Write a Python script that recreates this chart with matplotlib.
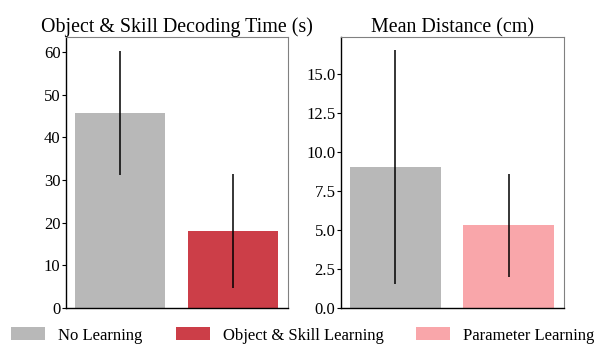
import matplotlib.pyplot as plt
from matplotlib.patches import Patch

plt.rcParams['font.family'] = ['Liberation Serif', 'DejaVu Serif']

# data
time_labels = ['No Learning', 'Object & Skill Learning']
time_means = [45.7, 18.0]
time_low = [31.1, 4.7]
time_high = [60.3, 31.4]

dist_labels = ['No Learning', 'Parameter Learning']
dist_means = [9.05, 5.32]
dist_low = [1.55, 2.0]
dist_high = [16.55, 8.6]

legend_labels = ['No Learning', 'Object & Skill Learning', 'Parameter Learning']
colors = {'No Learning': '#b8b8b8', 'Object & Skill Learning': '#cc3e48',
          'Parameter Learning': '#f9a6aa'}

fig = plt.figure(figsize=(6.09, 3.55), dpi=100)
ax1 = fig.add_axes([66 / 609, 1 - 308 / 355, 222 / 609, 271 / 355])
ax2 = fig.add_axes([341 / 609, 1 - 308 / 355, 223 / 609, 271 / 355])


def draw(ax, labels, means, low, high, ymax, ticks, fmt, title):
    xs = range(len(labels))
    ax.bar(xs, means, width=0.8, color=[colors[l] for l in labels])
    for x, m, lo, hi in zip(xs, means, low, high):
        ax.vlines(x, lo, hi, color='black', lw=1.1)
    ax.set_xlim(-0.48, 1.49)
    ax.set_ylim(0, ymax)
    ax.set_xticks([])
    ax.set_yticks(ticks)
    ax.set_yticklabels([fmt.format(t) for t in ticks])
    ax.tick_params(axis='y', labelsize=12, length=3, width=0.8, pad=1)
    for s in ['top', 'right']:
        ax.spines[s].set_color('#808080')
        ax.spines[s].set_linewidth(0.8)
    for s in ['left', 'bottom']:
        ax.spines[s].set_color('black')
        ax.spines[s].set_linewidth(1.0)
    ax.set_title(title, fontsize=14.4, pad=2)


draw(ax1, time_labels, time_means, time_low, time_high, 63.5,
     [0, 10, 20, 30, 40, 50, 60], '{:.0f}', 'Object & Skill Decoding Time (s)')
draw(ax2, dist_labels, dist_means, dist_low, dist_high, 17.37,
     [0, 2.5, 5, 7.5, 10, 12.5, 15], '{:.1f}', 'Mean Distance (cm)')

handles = [Patch(facecolor=colors[l], label=l) for l in legend_labels]
fig.legend(handles=handles, loc='center', ncol=3, frameon=False,
           fontsize=12, bbox_to_anchor=(303 / 609, 1 - 335.5 / 355),
           handlelength=2.04, handleheight=0.78, handletextpad=0.78,
           columnspacing=1.98, borderpad=0, borderaxespad=0)

fig.savefig('out.png', dpi=100)
